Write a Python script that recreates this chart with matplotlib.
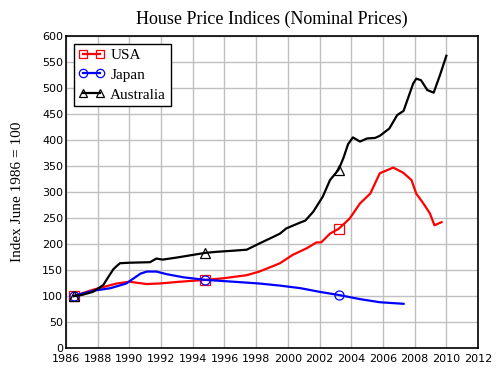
import numpy as np
import matplotlib
matplotlib.use("Agg")
import matplotlib.pyplot as plt

# values
usa_years = [1986.5, 1987.7, 1989.2, 1990.0, 1990.46, 1991.1, 1991.9, 1993.2, 1994.8,
             1995.9, 1997.4, 1998.2, 1999.1, 1999.5, 2000.3, 2001.2, 2001.8, 2002.1,
             2002.66, 2003.2, 2003.9, 2004.55, 2005.2, 2005.6, 2005.8, 2006.65, 2007.28,
             2007.8, 2008.1, 2008.55, 2008.96, 2009.25, 2009.7]
usa_index = [100, 112, 124, 127.5, 125.5, 123, 124, 127.5, 131,
             134, 140, 147, 158, 163, 179, 192, 203, 203,
             220, 229, 249, 278, 297, 323, 336, 347, 337,
             323, 297, 278, 259, 236, 242]

japan_years = [1986.5, 1987.7, 1988.8, 1989.8, 1990.7, 1991.1, 1991.7, 1992.35, 1993.4,
               1994.8, 1996.55, 1998.2, 1999.5, 2000.8, 2002.0, 2003.2, 2004.55, 2005.8,
               2007.3]
japan_index = [100, 110, 115, 124, 143, 147, 147, 142, 136,
               131, 127.5, 124, 120, 115, 108, 102, 94, 88,
               85]

aus_years = [1986.5, 1987.0, 1987.7, 1988.35, 1988.7, 1989.0, 1989.4, 1990.0, 1991.3,
             1991.7, 1992.1, 1993.0, 1994.0, 1994.8, 1995.5, 1996.5, 1997.4, 1998.2,
             1999.1, 1999.5, 1999.9, 2000.76, 2001.1, 2001.6, 2002.2, 2002.66, 2003.2,
             2003.5, 2003.8, 2004.1, 2004.55, 2005.0, 2005.5, 2005.8, 2006.4, 2006.9,
             2007.3, 2007.9, 2008.1, 2008.4, 2008.8, 2009.2, 2009.6, 2010.0]
aus_index = [100, 102, 108, 121, 138, 152, 163, 164, 165,
             172, 170, 174, 179, 183, 185, 187, 189, 201,
             214, 220, 230, 241, 245, 262, 291, 323, 343,
             365, 392, 405, 397, 403, 404, 408, 422, 448,
             456, 508, 518, 515, 496, 491, 525, 562]

marker_years = [1986.5, 1994.8, 2003.2]
x_ticks = list(range(1986, 2013, 2))
y_ticks = list(range(0, 601, 50))

series = [
    ("USA", usa_years, usa_index, "red", "s"),
    ("Japan", japan_years, japan_index, "blue", "o"),
    ("Australia", aus_years, aus_index, "black", "^"),
]

fig = plt.figure(figsize=(4.99, 3.79), dpi=100)
ax = fig.add_axes([0.1323, 0.0818, 0.8257, 0.8232])

for name, years, vals, color, mk in series:
    idx = [i for i, y in enumerate(years) if y in marker_years]
    ax.plot(years, vals, color=color, lw=1.6, marker=mk, markevery=idx,
            markersize=6.5, fillstyle="none", markeredgewidth=0.9, label=name)

ax.set_xlim(1986, 2012)
ax.set_ylim(0, 600)
ax.set_xticks(x_ticks)
ax.set_yticks(y_ticks)
ax.tick_params(length=0, labelsize=8, pad=2)
ax.tick_params(axis="x", pad=4)
for lab in ax.get_xticklabels() + ax.get_yticklabels():
    lab.set_family("DejaVu Sans")
ax.grid(True, color="#c0c0c0", lw=1)
ax.set_axisbelow(True)
for sp in ax.spines.values():
    sp.set_linewidth(1.2)

ax.set_title("House Price Indices (Nominal Prices)", family="Liberation Serif",
             fontsize=13, pad=9)
ax.set_ylabel("Index June 1986 = 100", family="Liberation Serif", fontsize=11, labelpad=13)

leg = ax.legend(loc="upper left", prop={"family": "Liberation Serif", "size": 11},
                fancybox=False, framealpha=1, edgecolor="black", borderaxespad=0.5,
                numpoints=2, handlelength=1.7, borderpad=0.3, labelspacing=0.4,
                handletextpad=0.4)
leg.get_frame().set_linewidth(1)
for h in leg.legend_handles:
    h.set_markersize(6)

fig.savefig("out.png", dpi=100)
